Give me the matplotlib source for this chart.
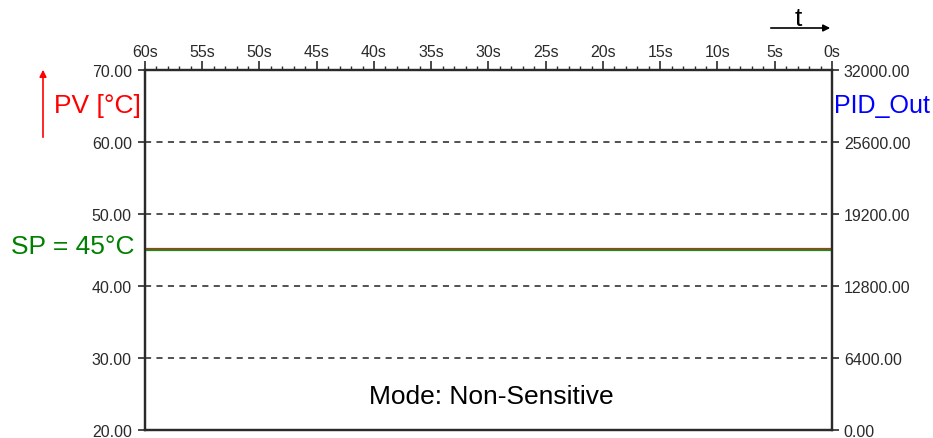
import matplotlib
matplotlib.use("Agg")
import matplotlib.pyplot as plt
from matplotlib.ticker import MultipleLocator, FixedLocator

plt.rcParams['font.family'] = ['Liberation Sans', 'DejaVu Sans']

# data
time_s = [60, 45, 30, 15, 0]
pv_values = [45.2, 45.2, 45.2, 45.2, 45.2]
sp_values = [45.0, 45.0, 45.0, 45.0, 45.0]
pv_ticks = [20, 30, 40, 50, 60, 70]
out_ticks = [0, 6400, 12800, 19200, 25600, 32000]
time_ticks = [60, 55, 50, 45, 40, 35, 30, 25, 20, 15, 10, 5, 0]

axis_col = '#2a2a2a'
tick_font = 11.5
label_font = 19

fig = plt.figure(figsize=(9.33, 4.39), dpi=100)
ax = fig.add_axes([0.1554, 0.0182, 0.7363, 0.8201])

ax.plot(time_s, pv_values, color='#e8191c', lw=1.6, zorder=3)
ax.plot(time_s, sp_values, color='#1a8a1a', lw=1.6, zorder=3)

ax.set_xlim(60, 0)
ax.set_ylim(20, 70)

for g in [30, 40, 50, 60]:
    ax.axhline(g, color='#222222', lw=1.1, ls=(0, (4, 3.5)), zorder=1)

# top time axis
ax.xaxis.tick_top()
ax.xaxis.set_major_locator(FixedLocator(time_ticks))
ax.xaxis.set_minor_locator(MultipleLocator(1))
ax.set_xticklabels([f"{t}s" for t in time_ticks], fontsize=tick_font, color=axis_col)
ax.tick_params(axis='x', which='major', direction='out', length=6.5, width=1.2,
               color=axis_col, pad=1.5)
ax.tick_params(axis='x', which='minor', direction='out', length=3, width=1.0,
               color=axis_col)

ax.set_yticks(pv_ticks)
ax.set_yticklabels([f"{v:.2f}" for v in pv_ticks], fontsize=tick_font, color=axis_col)
ax.tick_params(axis='y', direction='out', length=5, width=1.2, color=axis_col, pad=4.5)

ax2 = ax.twinx()
ax2.set_ylim(0, 32000)
ax2.set_yticks(out_ticks)
ax2.set_yticklabels([f"{v:.2f}" for v in out_ticks], fontsize=tick_font, color=axis_col)
ax2.tick_params(axis='y', direction='out', length=5, width=1.2, color=axis_col, pad=3.5)

for a in (ax, ax2):
    for side in ['left', 'right', 'top', 'bottom']:
        a.spines[side].set_color(axis_col)
        a.spines[side].set_linewidth(1.6)

# annotations around the plot
fig.text(54 / 933, 1 - 106 / 439, "PV [°C]", color='#ff0000', fontsize=label_font,
         ha='left', va='center')
fig.text(834 / 933, 1 - 106 / 439, "PID_Out", color='#0000ff', fontsize=18,
         ha='left', va='center')
fig.text(11 / 933, 1 - 247 / 439, "SP = 45°C", color='#008000', fontsize=label_font,
         ha='left', va='center')
fig.text(491 / 933, 1 - 397 / 439, "Mode: Non-Sensitive", color='black',
         fontsize=label_font, ha='center', va='center')
fig.text(798 / 933, 1 - 19 / 439, "t", color='black', fontsize=label_font,
         ha='center', va='center')

fig.patches.append(matplotlib.patches.FancyArrowPatch(
    (43 / 933, 1 - 141 / 439), (43 / 933, 1 - 68 / 439), transform=fig.transFigure,
    arrowstyle='-|>', mutation_scale=10, color='#ff0000', lw=1.2))
fig.patches.append(matplotlib.patches.FancyArrowPatch(
    (768 / 933, 1 - 29 / 439), (833 / 933, 1 - 29 / 439), transform=fig.transFigure,
    arrowstyle='-|>', mutation_scale=10, color='black', lw=1.2))

fig.savefig("out.png", dpi=100)
